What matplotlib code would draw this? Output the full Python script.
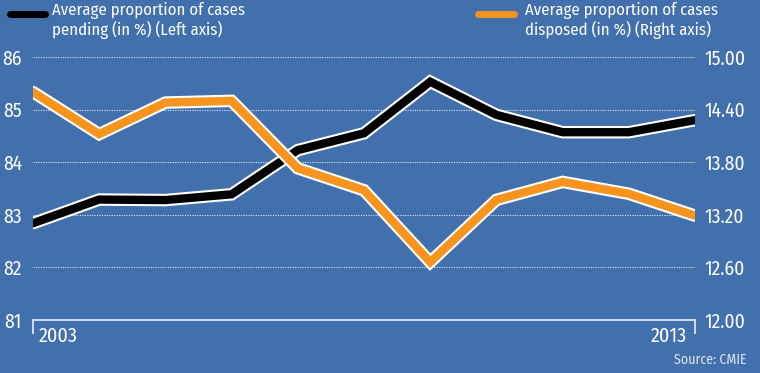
import matplotlib
matplotlib.use("Agg")
import matplotlib.pyplot as plt
import matplotlib.patheffects as pe
from matplotlib import font_manager

# Data
years = list(range(2003, 2014))
pending = [82.84, 83.29, 83.28, 83.39, 84.23, 84.55, 85.53, 84.90, 84.57, 84.57, 84.80]
disposed = [14.60, 14.12, 14.48, 14.50, 13.73, 13.48, 12.66, 13.37, 13.575, 13.44, 13.19]

left_ticks = [81, 82, 83, 84, 85, 86]
right_ticks = [12.00, 12.60, 13.20, 13.80, 14.40, 15.00]

BG = "#4170ad"
ORANGE = "#f7941e"
FG = "#ffffff"
AXIS = "#d4dced"

# condensed face if there is one, otherwise plain DejaVu
names = {f.name for f in font_manager.fontManager.ttflist}
FONT = [n for n in ("Fira Sans Condensed", "Roboto Condensed", "IBM Plex Sans Condensed") if n in names][:1]
plt.rcParams["font.family"] = FONT + ["DejaVu Sans"]

fig = plt.figure(figsize=(7.6, 3.73), dpi=100)
fig.patch.set_facecolor(BG)
ax = fig.add_axes([33 / 760, 1 - 320 / 373, (695 - 33) / 760, (320 - 57) / 373])
ax.set_facecolor(BG)
ax2 = ax.twinx()

outline = [pe.Stroke(linewidth=9, foreground="white"), pe.Normal()]

ax2.plot(years, disposed, color=ORANGE, lw=6, solid_joinstyle="miter",
         solid_capstyle="round", path_effects=outline, zorder=3)
ax.plot(years, pending, color="black", lw=6, solid_joinstyle="miter",
        solid_capstyle="round", path_effects=outline, zorder=3)

ax.set_xlim(2003, 2013)
ax.set_ylim(81, 86)
ax2.set_ylim(12, 15)

# dotted gridlines
for v in left_ticks[1:]:
    ax.axhline(v, color="white", lw=0.8, ls=(0, (1, 1.2)), alpha=0.85, zorder=1)

for a in (ax, ax2):
    for s in a.spines.values():
        s.set_visible(False)
    a.tick_params(length=0)
ax.set_xticks([])

ax.set_yticks(left_ticks)
ax.set_yticklabels([str(v) for v in left_ticks], color=FG, fontsize=14)
ax.tick_params(axis="y", pad=8)
ax2.set_yticks(right_ticks)
ax2.set_yticklabels([f"{v:.2f}" for v in right_ticks], color=FG, fontsize=14)
ax2.tick_params(axis="y", pad=7)

# bottom axis line with end ticks
ax.plot([0, 1], [0, 0], transform=ax.transAxes, color=AXIS, lw=1.4, clip_on=False)
ax.plot([0, 0], [0, -0.048], transform=ax.transAxes, color=AXIS, lw=1.4, clip_on=False)
ax.plot([1, 1], [0, -0.048], transform=ax.transAxes, color=AXIS, lw=1.4, clip_on=False)
ax.text(0.009, -0.025, str(years[0]), transform=ax.transAxes, color=FG, fontsize=14.5,
        ha="left", va="top")
ax.text(0.988, -0.025, str(years[-1]), transform=ax.transAxes, color=FG, fontsize=14.5,
        ha="right", va="top")

# legend
fig.add_artist(plt.Line2D([10 / 760, 45 / 760], [1 - 14 / 373] * 2, color="black", lw=5,
                          solid_capstyle="round"))
fig.text(52 / 760, 1 - 2 / 373, "Average proportion of cases\npending (in %) (Left axis)",
         color=FG, fontsize=12, va="top", ha="left", linespacing=1.1)
fig.add_artist(plt.Line2D([478 / 760, 514 / 760], [1 - 14 / 373] * 2, color=ORANGE, lw=5,
                          solid_capstyle="round"))
fig.text(525 / 760, 1 - 2 / 373, "Average proportion of cases\ndisposed (in %) (Right axis)",
         color=FG, fontsize=12, va="top", ha="left", linespacing=1.1)

fig.text(747 / 760, 1 - 360 / 373, "Source: CMIE", color="#dde4f0", fontsize=10,
         ha="right", va="center")

fig.savefig("out.png", dpi=100, facecolor=BG)
